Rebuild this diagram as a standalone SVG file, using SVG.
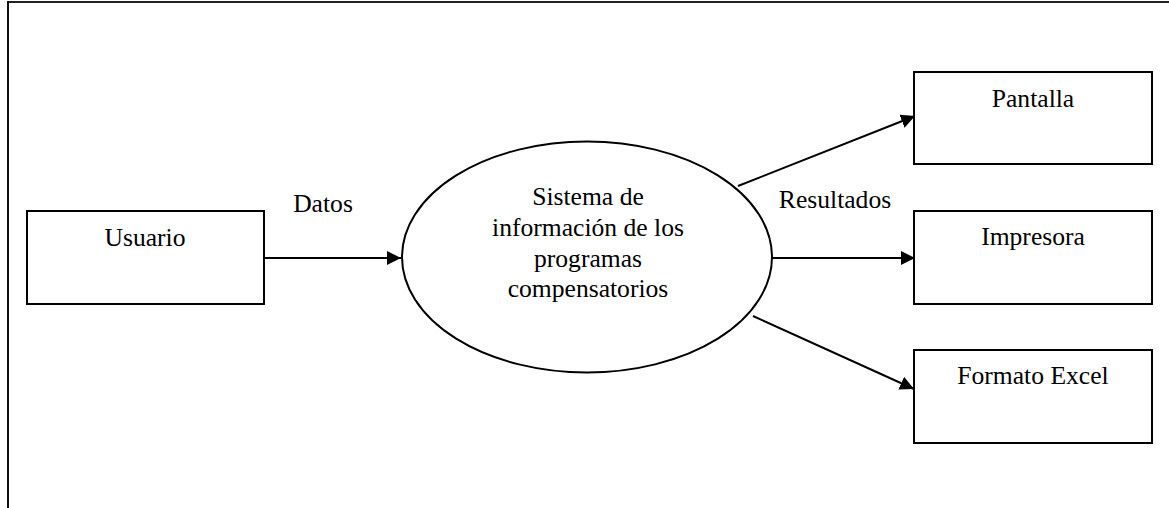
<svg xmlns="http://www.w3.org/2000/svg" width="1169" height="508" viewBox="0 0 1169 508">
<style>
text{font-family:'Liberation Serif','Times New Roman',Times,serif;font-size:25.6px;fill:#000;text-anchor:middle}
.box{fill:#fff;stroke:#000;stroke-width:2}
.con{stroke:#000;stroke-width:2;fill:none}
</style>
<defs>
<marker id="ah" markerUnits="userSpaceOnUse" markerWidth="15" markerHeight="15" refX="14" refY="7" orient="auto" viewBox="0 0 15 15">
<path d="M0,0 L14,7 L0,14 z" fill="#000"/>
</marker>
</defs>
<rect width="1169" height="508" fill="#fff"/>
<g id="frame">
<line x1="7" y1="2" x2="1169" y2="2" stroke="#222" stroke-width="2"/>
<line x1="8" y1="1" x2="8" y2="508" stroke="#111" stroke-width="2"/>
</g>
<g id="connectors">
<line class="con" x1="264" y1="258" x2="401" y2="258" marker-end="url(#ah)"/>
<line class="con" x1="738" y1="186" x2="915" y2="116" marker-end="url(#ah)"/>
<line class="con" x1="772" y1="258" x2="915" y2="258" marker-end="url(#ah)"/>
<line class="con" x1="753" y1="316" x2="914" y2="389" stroke-width="1.5" marker-end="url(#ah)"/>
<text x="323" y="212">Datos</text>
<text x="835" y="208">Resultados</text>
</g>
<g id="usuario">
<rect class="box" x="27" y="211" width="237" height="93"/>
<text x="145" y="246">Usuario</text>
</g>
<g id="sistema">
<ellipse cx="587" cy="257" rx="185" ry="115.5" fill="#fff" stroke="#000" stroke-width="2"/>
<text x="588" y="205">Sistema de</text>
<text x="588" y="236">información de los</text>
<text x="588" y="267">programas</text>
<text x="588" y="297">compensatorios</text>
</g>
<g id="pantalla">
<rect class="box" x="914" y="72" width="238" height="92"/>
<text x="1033" y="107">Pantalla</text>
</g>
<g id="impresora">
<rect class="box" x="914" y="211" width="238" height="93"/>
<text x="1033" y="245">Impresora</text>
</g>
<g id="excel">
<rect class="box" x="914" y="350" width="238" height="93"/>
<text x="1033" y="384">Formato Excel</text>
</g>
</svg>
